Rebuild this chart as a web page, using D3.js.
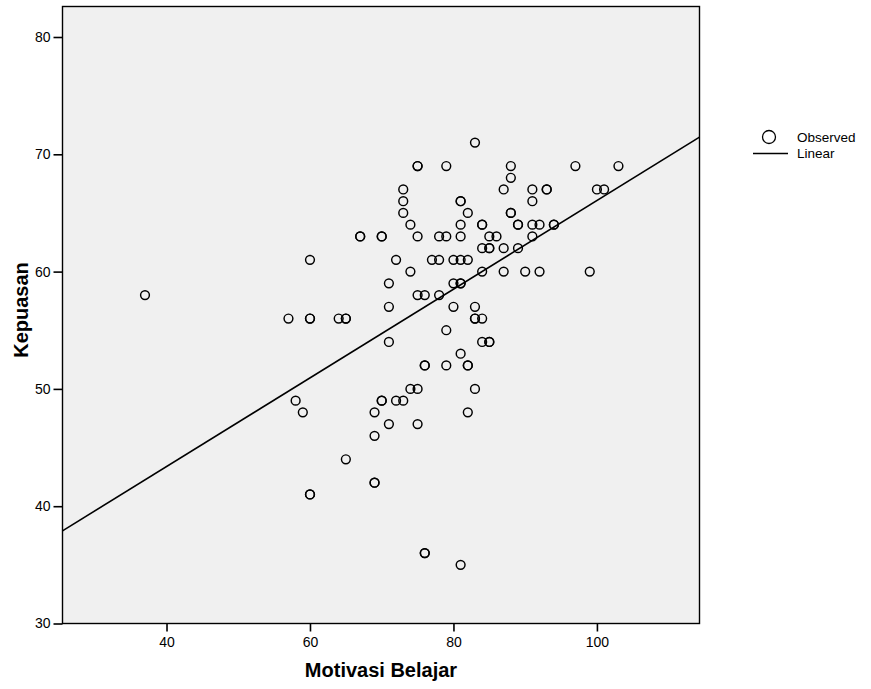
<!DOCTYPE html>
<html lang="en">
<head>
<meta charset="utf-8">
<title>Kepuasan vs Motivasi Belajar</title>
<script src="https://cdn.jsdelivr.net/npm/d3@7"></script>
<style>
  body { margin: 0; background: #ffffff; }
  text { font-family: "Liberation Sans", Arial, sans-serif; }
</style>
</head>
<body>
<svg id="chart"></svg>
<script>
// observed values (Motivasi Belajar, Kepuasan)
var motivasi = [37, 57, 58, 59, 60, 60, 60, 60, 60, 64, 65, 65, 65, 67, 67, 69, 69, 69, 69,
  70, 70, 70, 70, 71, 71, 71, 71, 72, 72, 73, 73, 73, 73, 74, 74, 74, 75, 75, 75, 75, 75, 75,
  76, 76, 76, 76, 76, 77, 78, 78, 78, 79, 79, 79, 79, 80, 80, 80, 81, 81, 81, 81, 81, 81, 81,
  81, 81, 82, 82, 82, 82, 82, 83, 83, 83, 83, 83, 84, 84, 84, 84, 84, 84, 85, 85, 85, 85, 85,
  86, 87, 87, 87, 88, 88, 88, 88, 89, 89, 89, 90, 91, 91, 91, 91, 92, 92, 93, 93, 94, 94, 97,
  99, 100, 101, 103];
var kepuasan = [58, 56, 49, 48, 61, 56, 56, 41, 41, 56, 56, 56, 44, 63, 63, 48, 46, 42, 42,
  63, 63, 49, 49, 59, 57, 54, 47, 61, 49, 67, 66, 65, 49, 64, 60, 50, 69, 69, 63, 58, 50, 47,
  58, 52, 52, 36, 36, 61, 63, 61, 58, 69, 63, 55, 52, 61, 59, 57, 66, 66, 64, 63, 61, 59, 59,
  53, 35, 65, 61, 52, 52, 48, 71, 57, 56, 56, 50, 64, 64, 62, 60, 56, 54, 63, 62, 62, 54, 54,
  63, 67, 62, 60, 69, 68, 65, 65, 64, 64, 62, 60, 67, 66, 64, 63, 64, 60, 67, 67, 64, 64, 69,
  60, 67, 67, 69];
// linear fit
var fitIntercept = 28.26;
var fitSlope = 0.378;

var xTicks = [40, 60, 80, 100];
var yTicks = [30, 40, 50, 60, 70, 80];

var width = 871, height = 689;
var plot = { left: 62.5, top: 6.5, right: 699.5, bottom: 623.5 };

var svg = d3.select("#chart").attr("width", width).attr("height", height);

var x = d3.scaleLinear().domain([25.5, 114.3]).range([plot.left, plot.right]);
var y = d3.scaleLinear().domain([30, 82.6]).range([plot.bottom, plot.top]);

svg.append("rect")
  .attr("x", plot.left).attr("y", plot.top)
  .attr("width", plot.right - plot.left).attr("height", plot.bottom - plot.top)
  .attr("fill", "#f0f0f0");

svg.append("clipPath").attr("id", "clip").append("rect")
  .attr("x", plot.left).attr("y", plot.top)
  .attr("width", plot.right - plot.left).attr("height", plot.bottom - plot.top);

var points = motivasi.map(function (d, i) { return { x: d, y: kepuasan[i] }; });

svg.append("g").selectAll("circle")
  .data(points)
  .enter()
  .append("circle")
  .attr("cx", d => x(d.x))
  .attr("cy", d => y(d.y))
  .attr("r", 4.4)
  .attr("fill", "none")
  .attr("stroke", "#000")
  .attr("stroke-width", 1.45);

var x0 = x.domain()[0], x1 = x.domain()[1];
svg.append("line")
  .attr("clip-path", "url(#clip)")
  .attr("x1", x(x0)).attr("y1", y(fitIntercept + fitSlope * x0))
  .attr("x2", x(x1)).attr("y2", y(fitIntercept + fitSlope * x1))
  .attr("stroke", "#000")
  .attr("stroke-width", 1.6);

// axes
var xAxis = svg.append("g")
  .attr("transform", "translate(0," + plot.bottom + ")")
  .call(d3.axisBottom(x).tickValues(xTicks).tickSize(8).tickPadding(6));
var yAxis = svg.append("g")
  .attr("transform", "translate(" + plot.left + ",0)")
  .call(d3.axisLeft(y).tickValues(yTicks).tickSize(9).tickPadding(3));

[xAxis, yAxis].forEach(function (g) {
  g.select(".domain").remove();
  g.selectAll(".tick line").attr("stroke", "#000").attr("stroke-width", 1.6);
  g.selectAll(".tick text")
    .attr("fill", "#000")
    .style("font-size", "14px")
    .style("font-family", "'Liberation Sans', Arial, sans-serif");
});

svg.append("rect")
  .attr("x", plot.left).attr("y", plot.top)
  .attr("width", plot.right - plot.left).attr("height", plot.bottom - plot.top)
  .attr("fill", "none")
  .attr("stroke", "#000")
  .attr("stroke-width", 1.4);

svg.append("text")
  .attr("x", (plot.left + plot.right) / 2)
  .attr("y", 677)
  .attr("text-anchor", "middle")
  .style("font-size", "20px")
  .style("font-weight", "bold")
  .text("Motivasi Belajar");

svg.append("text")
  .attr("transform", "translate(28,310) rotate(-90)")
  .attr("text-anchor", "middle")
  .style("font-size", "20px")
  .style("font-weight", "bold")
  .text("Kepuasan");

// legend
var legend = svg.append("g");
legend.append("circle")
  .attr("cx", 769).attr("cy", 137).attr("r", 6.5)
  .attr("fill", "none").attr("stroke", "#000").attr("stroke-width", 1.3);
legend.append("text")
  .attr("x", 797).attr("y", 142)
  .style("font-size", "13.5px")
  .text("Observed");
legend.append("line")
  .attr("x1", 753).attr("x2", 788).attr("y1", 153.5).attr("y2", 153.5)
  .attr("stroke", "#000").attr("stroke-width", 1.4);
legend.append("text")
  .attr("x", 797).attr("y", 158)
  .style("font-size", "13.5px")
  .text("Linear");
</script>
</body>
</html>
